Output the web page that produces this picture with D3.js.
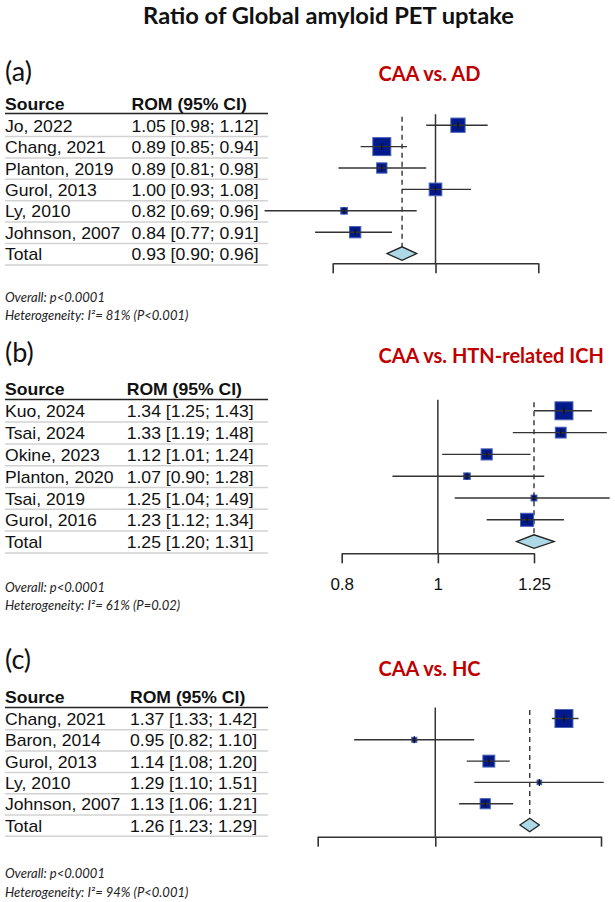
<!DOCTYPE html>
<html lang="en">
<head>
<meta charset="utf-8">
<style>
  body { margin: 0; background: #fff; }
  svg { display: block; }
</style>
</head>
<body>
<div id="chart"></div>
<script src="https://cdn.jsdelivr.net/npm/d3@7"></script>
<script>
// (a) CAA vs. AD
const sourcesA = ["Jo, 2022", "Chang, 2021", "Planton, 2019", "Gurol, 2013", "Ly, 2010", "Johnson, 2007"];
const romA = [1.05, 0.89, 0.89, 1.00, 0.82, 0.84];
const lowerA = [0.98, 0.85, 0.81, 0.93, 0.69, 0.77];
const upperA = [1.12, 0.94, 0.98, 1.08, 0.96, 0.91];
const weightsA = [21.1, 33.5, 11.0, 16.6, 4.6, 13.2];
const totalA = [0.93, 0.90, 0.96];
const ticksA = [0.8, 1, 1.25];
const hetA = ["81%", "P<0.001"];

// (b) CAA vs. HTN-related ICH
const sourcesB = ["Kuo, 2024", "Tsai, 2024", "Okine, 2023", "Planton, 2020", "Tsai, 2019", "Gurol, 2016"];
const romB = [1.34, 1.33, 1.12, 1.07, 1.25, 1.23];
const lowerB = [1.25, 1.19, 1.01, 0.90, 1.04, 1.12];
const upperB = [1.43, 1.48, 1.24, 1.28, 1.49, 1.34];
const weightsB = [39.8, 14.4, 15.2, 5.3, 4.3, 21.0];
const totalB = [1.25, 1.20, 1.31];
const ticksB = [0.8, 1, 1.25];
const hetB = ["61%", "P=0.02"];

// (c) CAA vs. HC
const sourcesC = ["Chang, 2021", "Baron, 2014", "Gurol, 2013", "Ly, 2010", "Johnson, 2007"];
const romC = [1.37, 0.95, 1.14, 1.29, 1.13];
const lowerC = [1.33, 0.82, 1.08, 1.10, 1.06];
const upperC = [1.42, 1.10, 1.20, 1.51, 1.21];
const weightsC = [52.6, 4.2, 23.0, 3.4, 16.8];
const totalC = [1.26, 1.23, 1.29];
const ticksC = [0.75, 1, 1.5];
const hetC = ["94%", "P<0.001"];

const panels = [
  { tag: "(a)", title: "CAA vs. AD", sources: sourcesA, rom: romA, lo: lowerA, hi: upperA,
    weights: weightsA, total: totalA, ticks: ticksA, het: hetA, labels: false,
    L: { tagY: 81, titleY: 81, head: 110, line: 113.5, row1: 131.7, step: 21.4, valX: 131.5,
         x0: 332.7, x1: 538.3, axisY: 263.3, foot: 301.7 } },
  { tag: "(b)", title: "CAA vs. HTN-related ICH", sources: sourcesB, rom: romB, lo: lowerB, hi: upperB,
    weights: weightsB, total: totalB, ticks: ticksB, het: hetB, labels: true,
    L: { tagY: 362, titleY: 363.3, head: 395, line: 399.5, row1: 417.3, step: 21.8, valX: 126.7,
         x0: 341.7, x1: 534, axisY: 553.3, foot: 591.7 } },
  { tag: "(c)", title: "CAA vs. HC", sources: sourcesC, rom: romC, lo: lowerC, hi: upperC,
    weights: weightsC, total: totalC, ticks: ticksC, het: hetC, labels: false,
    L: { tagY: 668.5, titleY: 675.7, head: 702.7, line: 707.5, row1: 725, step: 21.3, valX: 130,
         x0: 317.7, x1: 601, axisY: 836.7, foot: 878.3 } }
];

const W = 615, H = 902;
const svg = d3.select("#chart").append("svg").attr("width", W).attr("height", H);
svg.append("rect").attr("width", W).attr("height", H).attr("fill", "#fff");

svg.append("text")
  .attr("x", 328.5).attr("y", 23.5).attr("text-anchor", "middle")
  .style("font-family", "Lato, sans-serif").style("font-weight", "bold").style("font-size", "23.7px")
  .attr("fill", "#111")
  .text("Ratio of Global amyloid PET uptake");

const fmt = d3.format(".2f");
const ciText = (m, l, u) => `${fmt(m)} [${fmt(l)}; ${fmt(u)}]`;

// table text is slightly wide in the original, so stretch it a bit
function tableText(g, str, x, y, bold) {
  g.append("text")
    .attr("transform", `translate(${x},${y}) scale(1.1,1)`)
    .style("font-family", "'Liberation Sans', Arial, sans-serif")
    .style("font-size", "16px")
    .style("font-weight", bold ? "bold" : "normal")
    .attr("fill", "#111")
    .text(str);
}

panels.forEach(p => {
  const L = p.L;
  const g = svg.append("g");
  const n = p.sources.length;
  const rowNames = p.sources.concat(["Total"]);
  const rowVals = p.rom.map((m, i) => ciText(m, p.lo[i], p.hi[i]))
    .concat([ciText(p.total[0], p.total[1], p.total[2])]);

  // panel tag and title
  g.append("text").attr("x", 5).attr("y", L.tagY)
    .style("font-family", "Lato, sans-serif").style("font-size", "27px")
    .attr("fill", "#111").text(p.tag);
  g.append("text").attr("x", 378.5).attr("y", L.titleY)
    .style("font-family", "Lato, sans-serif").style("font-weight", "bold").style("font-size", "20px")
    .attr("fill", "#c00000").text(p.title);

  // table
  tableText(g, "Source", 5, L.head, true);
  tableText(g, "ROM (95% CI)", L.valX, L.head, true);
  g.append("line").attr("x1", 5).attr("x2", 268).attr("y1", L.line).attr("y2", L.line)
    .attr("stroke", "#222").attr("stroke-width", 1.5);

  const base = d3.scaleLinear().domain([0, 1]).range([L.row1, L.row1 + L.step]);
  const y = i => base(i) - 6.5;

  rowNames.forEach((name, i) => {
    tableText(g, name, 5, base(i), false);
    tableText(g, rowVals[i], L.valX, base(i), false);
    g.append("line").attr("x1", 5).attr("x2", 268)
      .attr("y1", base(i) + 4.8).attr("y2", base(i) + 4.8)
      .attr("stroke", "#d2d2d2").attr("stroke-width", 1.5);
  });

  // footnotes
  const foot = g.append("g")
    .style("font-family", "Lato, sans-serif").style("font-style", "italic").style("font-size", "13px")
    .attr("fill", "#222");
  foot.append("text").attr("x", 5).attr("y", L.foot).text("Overall: p<0.0001");
  foot.append("text").attr("x", 5).attr("y", L.foot + 18.2)
    .text(`Heterogeneity: I²= ${p.het[0]} (${p.het[1]})`);

  // forest plot
  const x = d3.scaleLog()
    .domain([p.ticks[0], p.ticks[p.ticks.length - 1]])
    .range([L.x0, L.x1]);
  const size = d3.scaleSqrt().domain([0, d3.max(p.weights)]).range([0, 18]);

  // reference line at 1
  g.append("line").attr("x1", x(1)).attr("x2", x(1))
    .attr("y1", y(0) - 11).attr("y2", L.axisY)
    .attr("stroke", "#333").attr("stroke-width", 1.5);

  // pooled estimate dashed line
  g.append("line").attr("x1", x(p.total[0])).attr("x2", x(p.total[0]))
    .attr("y1", y(0) - 8.5).attr("y2", y(n) - 6.8)
    .attr("stroke", "#333").attr("stroke-width", 1.4).attr("stroke-dasharray", "5,4");

  const studies = p.rom.map((m, i) => ({ m, lo: p.lo[i], hi: p.hi[i], w: p.weights[i], i }));

  g.selectAll(".sq").data(studies).join("rect")
    .attr("x", d => x(d.m) - size(d.w) / 2)
    .attr("y", d => y(d.i) - size(d.w) / 2)
    .attr("width", d => size(d.w))
    .attr("height", d => size(d.w))
    .attr("fill", "#001a8c")
    .attr("stroke", "#4b64b8")
    .attr("stroke-width", 1);

  g.selectAll(".ci").data(studies).join("line")
    .attr("x1", d => x(d.lo)).attr("x2", d => x(d.hi))
    .attr("y1", d => y(d.i)).attr("y2", d => y(d.i))
    .attr("stroke", "#333").attr("stroke-width", 1.4);

  g.selectAll(".pt").data(studies).join("line")
    .attr("x1", d => x(d.m)).attr("x2", d => x(d.m))
    .attr("y1", d => y(d.i) - 3.5).attr("y2", d => y(d.i) + 3.5)
    .attr("stroke", "#111").attr("stroke-width", 1.2);

  // diamond for total
  const yd = y(n);
  g.append("path")
    .attr("d", `M${x(p.total[1])},${yd} L${x(p.total[0])},${yd - 6.8} L${x(p.total[2])},${yd} L${x(p.total[0])},${yd + 6.8} Z`)
    .attr("fill", "#add8e6").attr("stroke", "#222").attr("stroke-width", 1.3);

  // axis
  const axis = g.append("g").attr("transform", `translate(0,${L.axisY})`)
    .call(d3.axisBottom(x)
      .tickValues(p.ticks)
      .tickSize(10)
      .tickSizeOuter(0)
      .tickPadding(15)
      .tickFormat(p.labels ? d3.format("") : () => ""));
  axis.select(".domain").attr("stroke", "#333").attr("stroke-width", 1.6);
  axis.selectAll(".tick line").attr("stroke", "#333").attr("stroke-width", 1.6);
  axis.selectAll(".tick text")
    .style("font-family", "'Liberation Sans', Arial, sans-serif")
    .style("font-size", "17px").attr("fill", "#111");
});
</script>
</body>
</html>
